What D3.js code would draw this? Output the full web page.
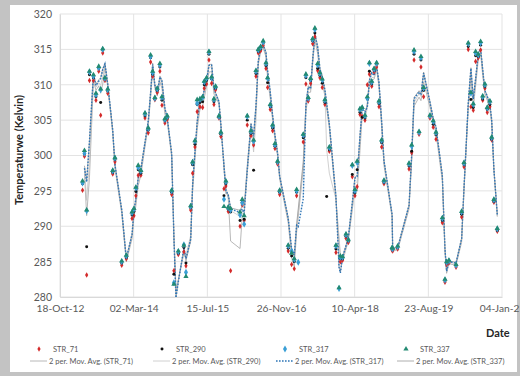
<!DOCTYPE html>
<html><head><meta charset="utf-8">
<script src="https://cdn.jsdelivr.net/npm/d3@7/dist/d3.min.js"></script>
<style>
html,body{margin:0;padding:0;background:#c3c3c3;}
svg{display:block;}
</style></head>
<body>
<svg id="chart" width="520" height="376"></svg>
<script>
const dates = ["2013-03-20","2013-04-02","2013-04-17","2013-05-06","2013-06-02","2013-06-19","2013-07-08","2013-07-21","2013-08-04","2013-08-19","2013-09-07","2013-10-11","2013-10-26","2013-12-11","2014-01-11","2014-02-19","2014-03-04","2014-03-17","2014-04-02","2014-04-20","2014-05-18","2014-06-09","2014-06-25","2014-07-09","2014-07-24","2014-08-09","2014-08-27","2014-09-10","2014-09-30","2014-10-16",
"2014-11-15","2014-11-30","2014-12-14","2014-12-30","2015-02-06","2015-02-20","2015-03-24","2015-04-06","2015-04-22","2015-05-07","2015-05-26","2015-06-13","2015-06-24","2015-07-10","2015-07-26","2015-08-13","2015-08-29","2015-09-09","2015-10-02","2015-10-15","2015-11-05","2015-11-18","2015-12-04","2015-12-20","2016-02-22","2016-03-08","2016-03-21","2016-04-11","2016-05-06","2016-05-24","2016-06-09","2016-06-25","2016-07-11","2016-07-28","2016-08-16","2016-08-27","2016-09-14","2016-09-30","2016-10-16","2016-11-03","2016-11-17",
"2017-01-14","2017-02-06","2017-02-24","2017-03-12","2017-03-23","2017-04-26","2017-05-14","2017-05-30","2017-06-15","2017-06-29","2017-07-14","2017-08-02","2017-08-17","2017-09-02","2017-09-20","2017-10-02","2017-10-20","2017-12-04","2017-12-25","2018-01-03","2018-01-18","2018-02-10","2018-02-26","2018-03-25","2018-04-12","2018-04-27","2018-05-16","2018-05-31","2018-06-19","2018-07-05","2018-07-19","2018-08-04","2018-08-20","2018-09-06","2018-09-22","2018-10-10","2018-10-26",
"2018-12-20","2018-12-24","2019-01-27","2019-04-14","2019-05-02","2019-05-18","2019-06-21","2019-07-04","2019-07-22","2019-09-03","2019-09-25","2019-10-14","2019-11-26","2019-12-14","2019-12-25","2020-01-10","2020-02-27","2020-04-05","2020-04-21","2020-05-20","2020-06-07","2020-06-23","2020-07-09","2020-07-27","2020-08-12","2020-08-26","2020-09-10","2020-09-26","2020-10-14","2020-10-26","2020-11-10","2020-12-03"];

const str71 = [295.1,299.9,283.1,310.6,310.6,307.8,311.9,305.7,314.5,310.6,308.8,297.4,299.1,284.5,285.4,291.1,291.5,294.3,297.2,297.2,305.3,303.2,313.2,311.2,307.9,308.9,311.9,307.1,304.6,305.1,
294.5,283.7,278.8,286.0,286.4,284.4,292.3,297.5,301.2,306.2,306.9,306.8,309.5,310.1,313.5,310.2,307.2,309.3,305.3,302.7,295.3,295.7,292.1,283.7,290.0,293.0,290.8,304.3,302.8,301.5,311.2,314.5,314.8,315.6,312.3,309.6,306.5,303.5,301.0,298.8,294.5,
286.5,284.6,284.0,294.3,null,301.9,310.1,307.7,310.2,315.8,316.8,312.0,311.0,309.6,307.2,null,300.6,286.3,null,285.0,285.2,288.3,287.7,297.0,294.3,295.6,305.8,305.5,305.0,310.0,311.5,309.8,311.8,312.5,306.9,301.2,296.0,
286.6,286.5,286.8,298.1,300.4,313.5,303.0,312.5,308.3,305.3,304.0,302.3,290.5,282.1,284.6,284.8,284.2,291.3,298.4,315.0,306.9,306.4,313.3,313.8,314.9,307.8,309.5,306.1,306.9,302.2,293.4,289.3];

const str290 = [296.0,300.2,287.1,311.4,311.0,308.3,312.3,307.5,314.9,310.8,309.1,297.6,299.4,284.8,285.6,291.6,292.1,294.9,298.0,297.5,305.6,303.6,313.8,311.5,308.0,309.2,312.5,307.8,304.9,305.3,
294.8,283.2,278.5,286.2,287.0,284.8,292.6,298.7,301.6,307.2,307.5,307.6,310.0,310.6,314.3,310.8,307.6,309.5,305.4,303.0,294.3,296.0,292.4,292.0,290.8,293.4,291.0,305.0,303.1,297.9,311.6,314.7,315.1,315.9,312.7,310.3,306.9,303.9,301.3,299.0,294.8,
286.9,285.8,285.0,294.8,null,302.5,311.0,308.0,310.6,316.2,317.3,312.3,311.3,310.2,307.5,294.2,300.8,286.8,null,285.4,285.4,288.6,287.9,297.3,294.7,298.0,306.1,305.4,305.3,308.0,311.9,310.1,312.0,312.9,307.3,301.8,296.2,
286.8,286.7,287.0,298.5,300.6,314.3,303.2,313.5,309.2,305.5,304.4,302.9,290.8,282.3,284.8,285.0,284.4,291.7,298.7,315.4,307.9,306.8,314.1,314.0,315.6,308.0,309.7,306.5,307.2,302.3,293.5,289.4];

const str317 = [296.1,300.3,292.2,311.8,311.2,308.6,312.4,309.3,315.0,310.9,309.3,297.8,299.6,285.0,285.8,291.9,292.4,295.4,298.3,297.8,305.9,303.8,314.0,311.7,308.1,309.4,312.8,308.2,305.1,305.5,
295.0,282.0,277.8,286.4,287.4,283.5,292.8,299.0,302.0,307.4,307.9,308.2,310.4,310.9,314.6,311.0,307.9,309.7,305.5,303.2,293.8,296.3,292.6,292.3,291.6,293.3,290.3,305.5,303.4,302.0,311.9,314.9,315.3,316.0,313.0,310.9,307.1,304.2,301.5,299.1,295.0,
287.2,286.5,285.3,295.0,284.9,302.9,311.3,308.1,310.8,316.4,317.8,312.8,311.6,310.7,307.8,null,301.1,287.2,281.2,285.6,285.6,288.8,288.1,298.6,295.0,299.0,306.5,306.7,305.6,308.1,313.0,310.4,312.2,313.0,307.6,302.1,296.4,
286.9,286.8,287.1,298.8,301.3,314.7,303.3,313.8,309.5,305.6,304.8,303.2,291.1,282.4,284.9,285.1,284.5,292.0,298.9,315.8,308.8,307.2,314.5,314.2,315.9,308.3,310.0,306.7,307.6,302.5,293.7,289.6];

const str337 = [296.4,300.7,292.3,311.9,311.4,308.8,312.6,309.4,315.1,311.0,309.4,297.9,299.7,285.1,285.9,292.0,292.5,295.5,298.6,297.9,306.0,303.9,314.2,311.9,308.2,309.5,313.0,308.3,305.2,305.6,
295.1,281.8,278.0,286.5,287.3,282.9,292.9,299.1,302.1,307.9,308.0,308.3,310.5,311.0,314.7,311.1,308.0,309.8,305.6,303.3,292.8,296.4,292.7,292.5,292.0,293.8,291.5,305.6,303.5,302.2,312.0,315.0,315.4,316.2,313.1,311.0,307.2,304.3,301.7,299.2,295.1,
287.3,286.2,285.4,295.2,null,303.0,311.5,308.2,310.9,316.5,318.0,313.0,311.7,310.8,307.9,null,301.2,287.3,281.3,285.8,285.7,288.9,288.1,298.7,295.2,299.2,306.6,306.8,305.7,308.3,313.1,310.5,312.3,313.1,307.7,302.2,296.5,
287.0,286.9,287.2,298.9,301.5,314.9,303.4,314.0,309.6,305.7,304.9,303.3,291.2,282.5,285.0,285.2,284.6,292.1,299.0,315.9,308.9,307.3,314.7,314.3,316.1,308.4,310.1,306.8,307.7,302.6,293.8,289.7];

const xTickLabels = ["18-Oct-12","02-Mar-14","15-Jul-15","26-Nov-16","10-Apr-18","23-Aug-19","04-Jan-21"];
const yTicks = [280,285,290,295,300,305,310,315,320];
const seriesNames = ["STR_71","STR_290","STR_317","STR_337"];

const parse = d3.utcParse("%d-%b-%y");
const parseISO = d3.utcParse("%Y-%m-%d");
const tickDates = xTickLabels.map(parse);

const svg = d3.select("#chart");
svg.append("rect").attr("x",10).attr("y",5).attr("width",507).attr("height",367).attr("fill","#fff");

const L=60,R=502,T=14,B=297;
const x = d3.scaleUtc().domain([tickDates[0], tickDates[tickDates.length-1]]).range([L,R]);
const y = d3.scaleLinear().domain([280,320]).range([B,T]);

svg.append("g").selectAll("line").data(yTicks).join("line")
  .attr("x1",L).attr("x2",R).attr("y1",d=>y(d)).attr("y2",d=>y(d))
  .attr("stroke","#e3e3e3").attr("stroke-width",1);
svg.append("g").selectAll("line").data(tickDates).join("line")
  .attr("y1",T).attr("y2",B).attr("x1",d=>x(d)).attr("x2",d=>x(d))
  .attr("stroke","#e3e3e3").attr("stroke-width",1);

const fontF = "Lato, 'Open Sans', sans-serif";
const yAxis = svg.append("g").attr("transform",`translate(${L},0)`)
  .call(d3.axisLeft(y).tickValues(yTicks).tickSize(0).tickPadding(8).tickFormat(d3.format("d")));
yAxis.select(".domain").attr("stroke","#d9d9d9");
yAxis.selectAll("text").attr("font-family",fontF).attr("font-size",10.5).attr("fill","#595959");

const xAxis = svg.append("g").attr("transform",`translate(0,${B})`)
  .call(d3.axisBottom(x).tickValues(tickDates).tickSize(0).tickPadding(8).tickFormat((d,i)=>xTickLabels[i]));
xAxis.select(".domain").attr("stroke","#d9d9d9");
xAxis.selectAll("text").attr("font-family",fontF).attr("font-size",10.2).attr("fill","#595959");

svg.append("text").attr("transform","translate(23,150) rotate(-90)").attr("text-anchor","middle")
  .attr("font-family",fontF).attr("font-weight","bold").attr("font-size",11).attr("fill","#262626")
  .text("Temperaturwe (Kelvin)");
svg.append("text").attr("x",486).attr("y",337)
  .attr("font-family",fontF).attr("font-weight","bold").attr("font-size",11).attr("fill","#262626")
  .text("Date");

svg.append("clipPath").attr("id","plotclip").append("rect").attr("x",L).attr("y",T-6).attr("width",R-L+6).attr("height",B-T+6);
const plot = svg.append("g").attr("clip-path","url(#plotclip)");

const allSeries = [str71, str290, str317, str337];
const styles = [
  {color:"#d42a2a", sym:d3.symbolDiamond, size:9, line:"#a6a6a6", lw:0.8, dash:null},
  {color:"#111111", sym:d3.symbolCircle, size:7, line:"#c4c4c4", lw:0.8, dash:null},
  {color:"#3a9fd6", sym:d3.symbolDiamond, size:14, line:"#2e75b6", lw:1.4, dash:"1.6,1.4"},
  {color:"#238a72", sym:d3.symbolTriangle, size:12, line:"#9a9a9a", lw:0.8, dash:null}
];

function pts(vals){
  return dates.map((d,i)=>({date:parseISO(d), v:vals[i]})).filter(p=>p.v!=null);
}
function movAvg(p){
  const out=[];
  for(let i=1;i<p.length;i++) out.push({date:p[i].date, v:(p[i-1].v+p[i].v)/2});
  return out;
}
const line = d3.line().x(d=>x(d.date)).y(d=>y(d.v));

[0,1,3,2].forEach(k=>{
  const s=styles[k];
  plot.append("path").datum(movAvg(pts(allSeries[k])))
    .attr("d",line).attr("fill","none").attr("stroke",s.line).attr("stroke-width",s.lw)
    .attr("stroke-dasharray",s.dash);
});

allSeries.forEach((vals,k)=>{
  const s=styles[k];
  const sym=d3.symbol().type(s.sym).size(s.size);
  plot.append("g").selectAll("path").data(pts(vals)).join("path")
    .attr("transform",d=>`translate(${x(d.date)},${y(d.v)})`)
    .attr("d",sym).attr("fill",s.color);
});

const legX=[39,162,285,406];
const lg = svg.append("g");
seriesNames.forEach((n,k)=>{
  const s=styles[k];
  lg.append("path").attr("transform",`translate(${legX[k]},349)`).attr("d",d3.symbol().type(s.sym).size(s.size)()).attr("fill",s.color);
  lg.append("text").attr("x",legX[k]+14).attr("y",352).attr("font-family",fontF).attr("font-size",7.5).attr("fill","#595959").text(n);
  const lx = legX[k]-9;
  lg.append("line").attr("x1",lx).attr("x2",lx+17).attr("y1",361).attr("y2",361)
    .attr("stroke",s.line).attr("stroke-width",s.lw).attr("stroke-dasharray",s.dash);
  lg.append("text").attr("x",lx+19).attr("y",364).attr("font-family",fontF).attr("font-size",7.5).attr("fill","#595959")
    .text(`2 per. Mov. Avg. (${n})`);
});
</script>
</body></html>
